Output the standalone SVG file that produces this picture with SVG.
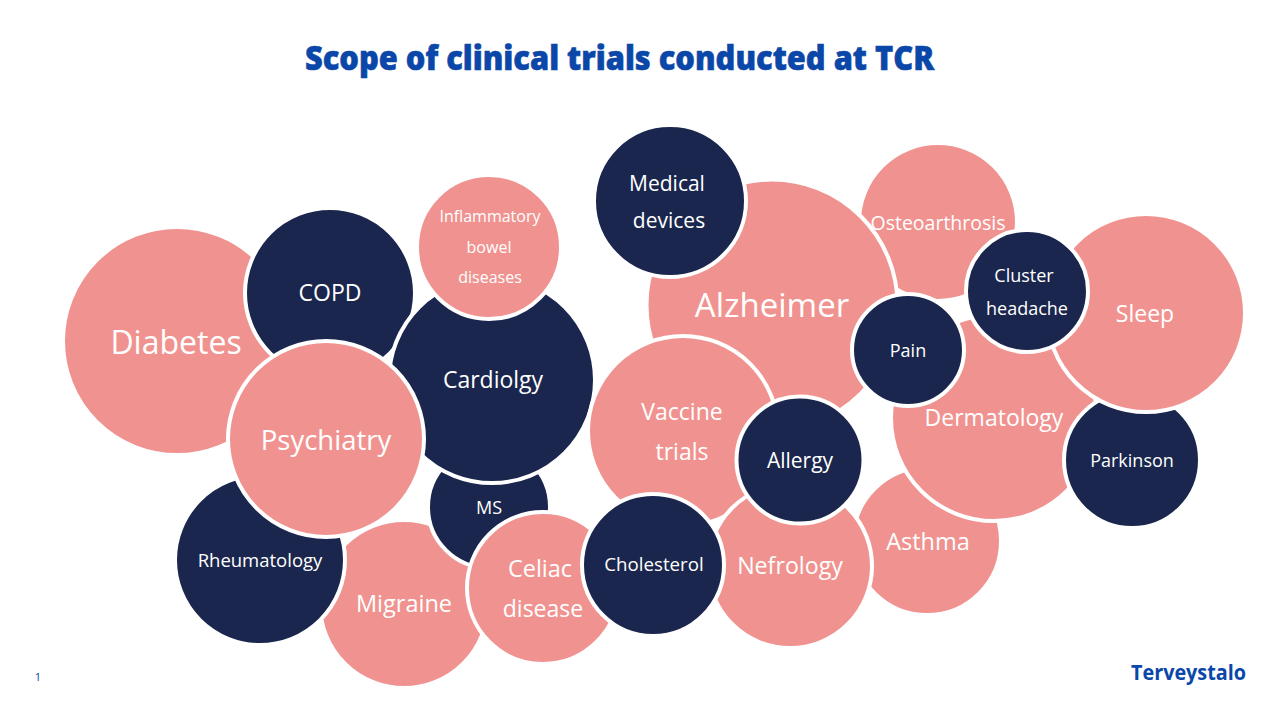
<svg xmlns="http://www.w3.org/2000/svg" width="1280" height="720" viewBox="0 0 1280 720">
<style>
text{font-family:"Open Sans","Noto Sans","DejaVu Sans",sans-serif;text-anchor:middle;fill:#fff}
circle{stroke:#fff;stroke-width:4}
.p circle{fill:#F09390}
.n circle{fill:#1A264D}
.title{font-size:33px;font-weight:800;fill:#0A47A8;stroke:#0A47A8;stroke-width:.6}
.logo{font-size:21px;font-weight:700;fill:#0A47A8;text-anchor:start}
.pg{font-size:11px;fill:#0A47A8}
</style>
<rect width="1280" height="720" fill="#fff"/>
<text class="title" x="619.500" y="70" textLength="629" lengthAdjust="spacingAndGlyphs">Scope of clinical trials conducted at TCR</text>
<g id="connectors"/>
<g id="diabetes" class="p"><circle cx="177" cy="341" r="114"/><text x="176" y="354" font-size="32">Diabetes</text></g>
<g id="copd" class="n"><circle cx="330" cy="293" r="85"/><text x="330" y="301" font-size="23">COPD</text></g>
<g id="migraine" class="p"><circle cx="404" cy="604" r="84"/><text x="404" y="612" font-size="23.500">Migraine</text></g>
<g id="rheumatology" class="n"><circle cx="260" cy="560" r="85"/><text x="260" y="567" font-size="18.500">Rheumatology</text></g>
<g id="ms" class="n"><circle cx="489" cy="507" r="61"/><text x="489" y="514" font-size="18">MS</text></g>
<g id="cardiology" class="n"><circle cx="492" cy="380" r="103"/><text x="493" y="388" font-size="23">Cardiolgy</text></g>
<g id="inflammatory" class="p"><circle cx="489" cy="247" r="72"/><text x="490" y="222" font-size="16">Inflammatory</text><text x="489" y="253" font-size="16">bowel</text><text x="490" y="283" font-size="16">diseases</text></g>
<g id="psychiatry" class="p"><circle cx="326" cy="439" r="98"/><text x="326" y="450" font-size="27.500">Psychiatry</text></g>
<g id="celiac" class="p"><circle cx="543" cy="588" r="76"/><text x="540" y="577" font-size="23.500">Celiac</text><text x="543" y="617" font-size="23">disease</text></g>
<g id="osteoarthrosis" class="p"><circle cx="938" cy="222" r="79"/><text x="938" y="230" font-size="19.500">Osteoarthrosis</text></g>
<g id="alzheimer" class="p"><circle cx="772" cy="305" r="125.500"/><text x="772" y="317" font-size="33">Alzheimer</text></g>
<g id="vaccine" class="p"><circle cx="683" cy="431" r="95"/><text x="682" y="420" font-size="23">Vaccine</text><text x="682" y="460" font-size="23">trials</text></g>
<g id="asthma" class="p"><circle cx="927" cy="541" r="74"/><text x="928" y="550" font-size="23.500">Asthma</text></g>
<g id="nefrology" class="p"><circle cx="790" cy="566" r="82"/><text x="790" y="574" font-size="23.200">Nefrology</text></g>
<g id="allergy" class="n"><circle cx="800" cy="460" r="63.500"/><text x="800" y="468" font-size="21">Allergy</text></g>
<g id="cholesterol" class="n"><circle cx="653" cy="565" r="71"/><text x="654" y="571" font-size="18.700">Cholesterol</text></g>
<g id="medical" class="n"><circle cx="670" cy="201" r="76"/><text x="667" y="191" font-size="21">Medical</text><text x="669" y="228" font-size="21">devices</text></g>
<g id="dermatology" class="p"><circle cx="994" cy="418" r="103"/><text x="994" y="426" font-size="23">Dermatology</text></g>
<g id="parkinson" class="n"><circle cx="1132" cy="460" r="68"/><text x="1132" y="467" font-size="18">Parkinson</text></g>
<g id="sleep" class="p"><circle cx="1146" cy="313" r="99"/><text x="1145" y="322" font-size="23">Sleep</text></g>
<g id="pain" class="n"><circle cx="908" cy="350" r="56"/><text x="908" y="357" font-size="18">Pain</text></g>
<g id="cluster" class="n"><circle cx="1027" cy="291" r="61"/><text x="1024" y="282" font-size="18">Cluster</text><text x="1027" y="315" font-size="18">headache</text></g>
<text class="pg" x="38" y="681">1</text>
<text class="logo" x="1131" y="680" textLength="115" lengthAdjust="spacingAndGlyphs">Terveystalo</text>
</svg>
